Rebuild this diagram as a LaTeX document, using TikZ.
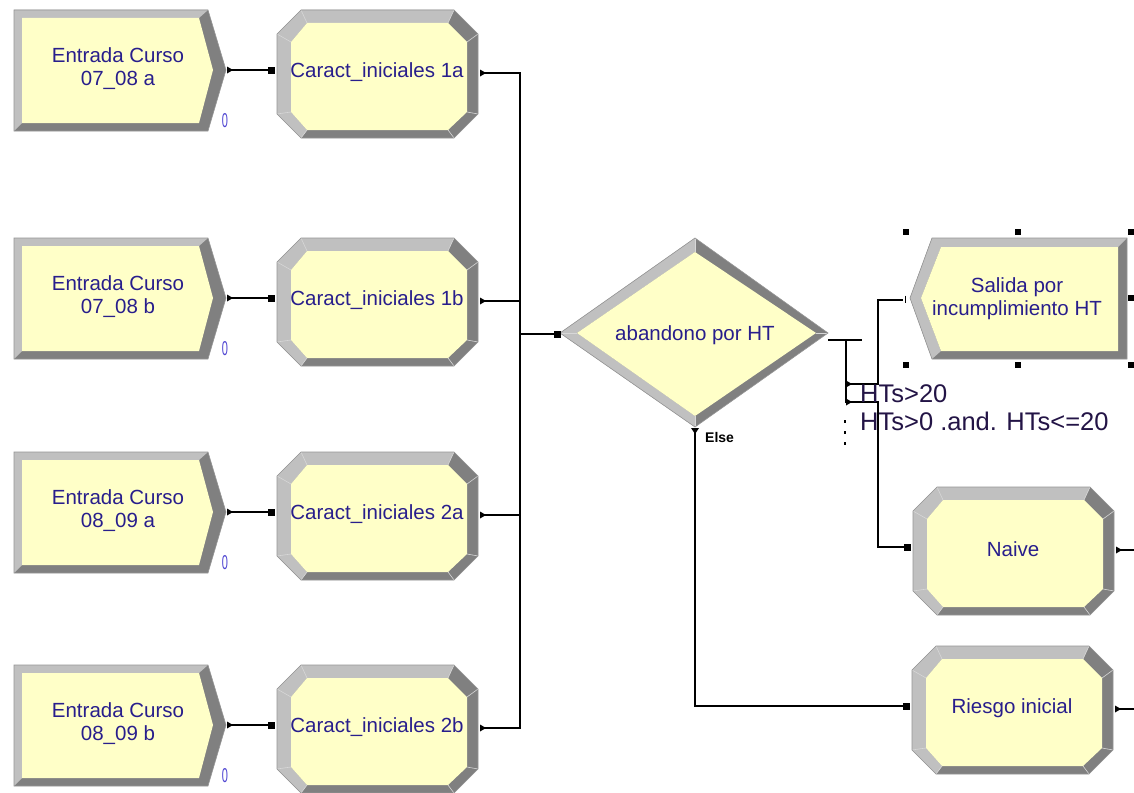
\documentclass[tikz,border=0pt]{standalone}
\usepackage{fontspec}
\setmainfont{Liberation Sans}

\definecolor{modyellow}{RGB}{255,255,200}
\definecolor{bevlight}{RGB}{192,192,192}
\definecolor{bevdark}{RGB}{128,128,128}
\definecolor{rimgray}{RGB}{150,150,150}
\definecolor{seamgray}{RGB}{215,215,215}
\definecolor{txtblue}{RGB}{40,30,140}
\definecolor{cntblue}{RGB}{80,70,210}
\definecolor{cndtxt}{RGB}{35,20,70}

\tikzset{
  lightface/.style={fill=bevlight},
  darkface/.style={fill=bevdark},
  face/.style={fill=modyellow},
  rim/.style={draw=rimgray, line width=0.6pt},
  seam/.style={draw=seamgray, line width=0.6pt},
  modtext/.style={text=txtblue, font=\fontsize{20.5}{23}\selectfont, align=center, inner sep=0pt},
  cnt/.style={text=cntblue, font=\fontsize{20}{20}\selectfont, inner sep=0pt, xscale=0.55},
  condtext/.style={text=cndtxt, font=\fontsize{25.5}{28}\selectfont, anchor=base west, inner sep=0pt},
  conn/.style={draw=black, line width=1.3pt},
  port/.style={fill=black},
  handle/.style={fill=black},
}

% Create module: name, left, top, label
\newcommand\CreateMod[4]{%
  \begin{scope}[shift={(#2,#3)}]
    \fill[darkface] (0,0) -- (194,0) -- (212,60) -- (194,121) -- (0,121) -- cycle;
    \fill[lightface] (0,121) -- (0,0) -- (194,0) -- (185,8) -- (8,8) -- (8,113) -- cycle;
    \fill[face] (8,8) -- (185,8) -- (199,60) -- (185,113) -- (8,113) -- cycle;
    \draw[rim] (0,0) -- (194,0) -- (212,60) -- (194,121) -- (0,121) -- cycle;
    \node[modtext] (#1) at (104,58.5) {#4};
    \coordinate (#1-out) at (216,60);
    \fill[port] (213,56.5) -- (219,60) -- (213,63.5) -- cycle;
    \node[cnt] (#1-cnt) at (211,111) {0};
  \end{scope}}

% Process module: name, left, top, label
\newcommand\ProcMod[4]{%
  \begin{scope}[shift={(#2,#3)}]
    \fill[darkface] (24,0) -- (177,0) -- (201,24) -- (201,104) -- (177,128) -- (24,128) -- (0,104) -- (0,24) -- cycle;
    \fill[lightface] (24,128) -- (0,104) -- (0,24) -- (24,0) -- (177,0) -- (171,13) -- (30,13) -- (14,32) -- (14,102) -- (30,120) -- cycle;
    \fill[face] (30,13) -- (171,13) -- (190,32) -- (190,102) -- (171,120) -- (30,120) -- (14,102) -- (14,32) -- cycle;
    \draw[seam] (24,0) -- (30,13) (0,24) -- (14,32) (0,104) -- (14,102) (24,128) -- (30,120)
                (177,128) -- (171,120) (201,104) -- (190,102) (201,24) -- (190,32) (177,0) -- (171,13);
    \draw[rim] (24,0) -- (177,0) -- (201,24) -- (201,104) -- (177,128) -- (24,128) -- (0,104) -- (0,24) -- cycle;
    \node[modtext] (#1) at (100,62) {#4};
    \coordinate (#1-in) at (-5,60);
    \coordinate (#1-out) at (206,63);
    \fill[port] (-9,56.5) rectangle (-2,63.5);
    \fill[port] (203,59.5) -- (209,63) -- (203,66.5) -- cycle;
  \end{scope}}

\begin{document}
\begin{tikzpicture}[x=1pt,y=-1pt]
  \fill[white] (0,0) rectangle (1134,792);
  \path[use as bounding box] (0,0) rectangle (1134,792);

  % arrivals
  \CreateMod{c1}{14}{10}{Entrada Curso\\07\_08 a}
  \CreateMod{c2}{14}{238}{Entrada Curso\\07\_08 b}
  \CreateMod{c3}{14}{452}{Entrada Curso\\08\_09 a}
  \CreateMod{c4}{14}{665}{Entrada Curso\\08\_09 b}

  % initial characteristics
  \ProcMod{p1}{277}{10}{Caract\_iniciales 1a}
  \ProcMod{p2}{277}{238}{Caract\_iniciales 1b}
  \ProcMod{p3}{277}{452}{Caract\_iniciales 2a}
  \ProcMod{p4}{277}{665}{Caract\_iniciales 2b}

  % downstream processes
  \ProcMod{p5}{913}{487}{Naive}
  \ProcMod{p6}{912}{646}{Riesgo inicial}

  % decision
  \fill[darkface] (560,333) -- (695,238) -- (828,333) -- (695,427) -- cycle;
  \fill[lightface] (695,238) -- (560,333) -- (695,427) -- (695,416) -- (577,333) -- (695,252) -- cycle;
  \fill[face] (577,333) -- (695,252) -- (816,333) -- (695,416) -- cycle;
  \draw[seam] (560,333) -- (577,333) (828,333) -- (816,333) (695,238) -- (695,252) (695,427) -- (695,416);
  \draw[rim] (560,333) -- (695,238) -- (828,333) -- (695,427) -- cycle;
  \node[modtext] (dec) at (695,335) {abandono por HT};
  \coordinate (dec-in) at (557,334);
  \coordinate (dec-else) at (695,431);
  \coordinate (dec-r) at (828,340);
  \coordinate (dec-t) at (862,340);
  \coordinate (dec-j) at (846,340);
  \coordinate (dec-e1) at (848,384);
  \coordinate (dec-e2) at (848,402);
  \coordinate (route1) at (878,384);
  \coordinate (route2) at (878,402);
  \coordinate (bus) at (520,334);
  \node[font=\bfseries\fontsize{14}{14}\selectfont, anchor=west, inner sep=0pt] (elselbl) at (705,437) {Else};

  % dispose
  \fill[darkface] (910,298) -- (932,238) -- (1127,238) -- (1127,359) -- (932,359) -- cycle;
  \fill[lightface] (932,359) -- (910,298) -- (932,238) -- (1127,238) -- (1118,247) -- (941,247) -- (921,298) -- (941,351) -- cycle;
  \fill[face] (921,298) -- (941,247) -- (1118,247) -- (1118,351) -- (941,351) -- cycle;
  \draw[rim] (910,298) -- (932,238) -- (1127,238) -- (1127,359) -- (932,359) -- cycle;
  \node[modtext] (disp) at (1017,298.5) {Salida por\\incumplimiento HT};
  \coordinate (disp-in) at (903,300);

  % selection handles around the dispose module
  \foreach \hx/\hy in {906/232, 1018/232, 1131/232, 1131/298, 1131/365, 1018/365, 906/365}
    \fill[handle] (\hx-3,\hy-3) rectangle (\hx+3,\hy+3);

  % connections
  \draw[conn] (c1-out) -- (p1-in);
  \draw[conn] (c2-out) -- (p2-in);
  \draw[conn] (c3-out) -- (p3-in);
  \draw[conn] (c4-out) -- (p4-in);
  \draw[conn] (p1-out) -| (bus);
  \draw[conn] (p2-out) -| (bus);
  \draw[conn] (p3-out) -| (bus);
  \draw[conn] (p4-out) -| (bus);
  \draw[conn] (bus) -- (dec-in);
  \fill[port] (553.5,330.5) rectangle (560.5,337.5);

  \draw[conn] (dec-r) -- (dec-t);
  \draw[conn] (dec-j) |- (dec-e2);
  \draw[conn] (dec-e1) -- (route1) |- (disp-in);
  \draw[conn] (dec-e2) -- (route2) |- (p5-in);
  \fill[port] (846,380.5) -- (852,384) -- (846,387.5) -- cycle;
  \fill[port] (846,398.5) -- (852,402) -- (846,405.5) -- cycle;
  \draw[line width=1.4pt, dash pattern=on 3pt off 8pt] (845,420) -- (845,448);
  \draw[line width=0.8pt] (905.5,295.5) -- (905.5,303);

  \draw[conn] (dec-else) |- (p6-in);
  \fill[port] (691,428) -- (699,428) -- (695,434) -- cycle;

  \coordinate (p5-end) at (1134,550);
  \coordinate (p6-end) at (1134,709);
  \draw[conn] (p5-out) -- (p5-end);
  \draw[conn] (p6-out) -- (p6-end);

  % branch conditions
  \node[condtext] (cond1) at (860,402) {HTs>20};
  \node[condtext] (cond2) at (860,430) {HTs>0 .and. HTs<=20};
\end{tikzpicture}
\end{document}
